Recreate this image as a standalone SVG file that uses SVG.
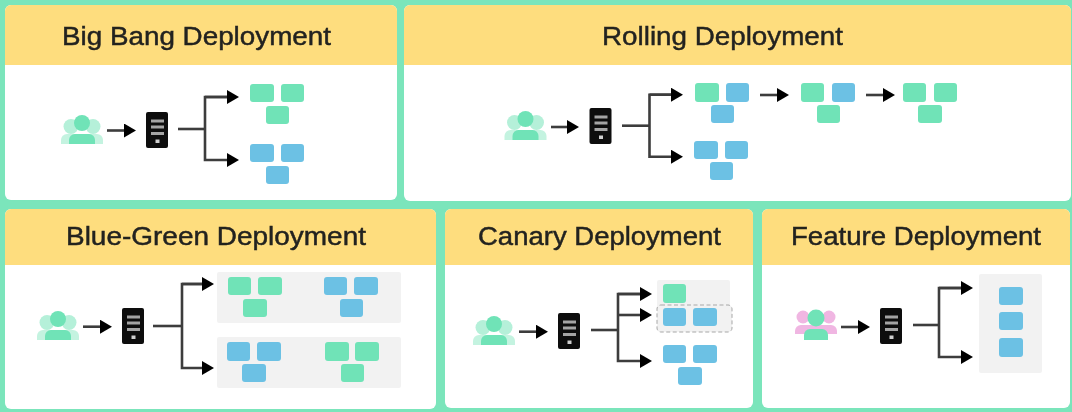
<svg xmlns="http://www.w3.org/2000/svg" width="1072" height="412" viewBox="0 0 1072 412">
<style>
.panel{fill:#fff}
.head{fill:#fedd7e}
.title{font-family:"Liberation Sans",Arial,sans-serif;font-size:25px;font-weight:400;fill:#232320;stroke:#232320;stroke-width:.45px}
.g{fill:#6fe3b7}
.b{fill:#6cc1e4}
.zone{fill:#f2f2f2}
.dash{fill:#f2f2f2;stroke:#a8a8a8;stroke-width:1;stroke-dasharray:4 2.5}
.conn{fill:none;stroke:#3c3c3c;stroke-width:2.6;marker-end:url(#ah)}
.plain{fill:none;stroke:#3c3c3c;stroke-width:2.6}
</style>
<defs>
<filter id="soft" x="0" y="0" width="100%" height="100%"><feGaussianBlur stdDeviation="0.7"/></filter>
<marker id="ah" markerUnits="userSpaceOnUse" markerWidth="13" markerHeight="15" refX="0" refY="7" orient="auto"><path d="M0 0L12 7L0 14Z" fill="#000"/></marker>
<g id="server">
<rect x="146" y="112" width="22" height="36" rx="2" fill="#0d0d0d"/>
<rect x="151" y="119.500" width="13" height="3" fill="#a4a4a4"/>
<rect x="151" y="125.500" width="13" height="3" fill="#a4a4a4"/>
<rect x="151" y="132" width="13" height="3" fill="#a4a4a4"/>
<rect x="155.500" y="139.500" width="4" height="3.500" fill="#d0d0d0"/>
</g>
<g id="user">
<circle cx="71" cy="126.500" r="7.500" fill="#b5f0d9"/>
<circle cx="93" cy="126.500" r="7.500" fill="#b5f0d9"/>
<path d="M61 144v-4a6 6 0 0 1 6-6h30a6 6 0 0 1 6 6v4z" fill="#c4f3e0"/>
<circle cx="82" cy="123" r="8" fill="#6fe3b7"/>
<path d="M69 144v-4a6 6 0 0 1 6-6h14a6 6 0 0 1 6 6v4z" fill="#6fe3b7"/>
</g>
<g id="userpink">
<circle cx="69" cy="121" r="6.500" fill="#f0b6e2"/>
<circle cx="95" cy="121" r="6.500" fill="#f0b6e2"/>
<path d="M61 138v-3a6 6 0 0 1 6-6h30a6 6 0 0 1 6 6v3z" fill="#f0b6e2"/>
<circle cx="82" cy="122" r="8.500" fill="#6fe3b7"/>
<path d="M70 144v-5a6 6 0 0 1 6-6h12a6 6 0 0 1 6 6v5z" fill="#6fe3b7"/>
</g>
</defs>
<rect width="1072" height="412" fill="#7be5bb"/>
<g filter="url(#soft)">
<g id="panel-big-bang">
<rect class="panel" x="5" y="5" width="392" height="195" rx="6"/>
<path class="head" d="M5 65V11a6 6 0 0 1 6-6H391a6 6 0 0 1 6 6V65z"/>
<text class="title" x="62" y="45" textLength="269" lengthAdjust="spacingAndGlyphs">Big Bang Deployment</text>
</g>
<g id="panel-rolling">
<rect class="panel" x="404" y="5" width="667" height="196" rx="6"/>
<path class="head" d="M404 65V11a6 6 0 0 1 6-6H1065a6 6 0 0 1 6 6V65z"/>
<text class="title" x="602" y="45" textLength="241" lengthAdjust="spacingAndGlyphs" style="font-size:26px">Rolling Deployment</text>
</g>
<g id="panel-blue-green">
<rect class="panel" x="5" y="209" width="431" height="200" rx="6"/>
<path class="head" d="M5 265V215a6 6 0 0 1 6-6H430a6 6 0 0 1 6 6V265z"/>
<text class="title" x="66" y="245" textLength="300" lengthAdjust="spacingAndGlyphs">Blue-Green Deployment</text>
</g>
<g id="panel-canary">
<rect class="panel" x="445" y="209" width="308" height="199" rx="6"/>
<path class="head" d="M445 265V215a6 6 0 0 1 6-6H747a6 6 0 0 1 6 6V265z"/>
<text class="title" x="478" y="245" textLength="243" lengthAdjust="spacingAndGlyphs">Canary Deployment</text>
</g>
<g id="panel-feature">
<rect class="panel" x="762" y="209" width="308" height="199" rx="6"/>
<path class="head" d="M762 265V215a6 6 0 0 1 6-6H1064a6 6 0 0 1 6 6V265z"/>
<text class="title" x="791" y="245" textLength="250" lengthAdjust="spacingAndGlyphs">Feature Deployment</text>
</g>

<g id="bb-user"><use href="#user"/></g>
<g id="bb-server"><use href="#server"/></g>
<g id="bb-green"><rect class="g" x="250" y="84" width="24" height="18" rx="3"/><rect class="g" x="281" y="84" width="23" height="18" rx="3"/><rect class="g" x="266" y="106" width="23" height="18" rx="3"/></g>
<g id="bb-blue"><rect class="b" x="250" y="144" width="24" height="18" rx="3"/><rect class="b" x="281" y="144" width="23" height="18" rx="3"/><rect class="b" x="266" y="166" width="23" height="18" rx="3"/></g>

<g id="ro-user"><use href="#user" x="443.500" y="-4"/></g>
<g id="ro-server"><use href="#server" x="443.500" y="-4"/></g>
<g id="ro-mixed-1"><rect class="g" x="695" y="83" width="24" height="19" rx="3"/><rect class="b" x="726" y="83" width="23" height="19" rx="3"/><rect class="b" x="711" y="105" width="23" height="18" rx="3"/></g>
<g id="ro-blue"><rect class="b" x="694" y="141" width="24" height="18" rx="3"/><rect class="b" x="725" y="141" width="23" height="18" rx="3"/><rect class="b" x="710" y="162" width="23" height="18" rx="3"/></g>
<g id="ro-mixed-2"><rect class="g" x="801" y="83" width="23" height="19" rx="3"/><rect class="b" x="832" y="83" width="23" height="19" rx="3"/><rect class="g" x="817" y="105" width="23" height="18" rx="3"/></g>
<g id="ro-green"><rect class="g" x="903" y="83" width="23" height="19" rx="3"/><rect class="g" x="934" y="83" width="23" height="19" rx="3"/><rect class="g" x="918" y="105" width="24" height="18" rx="3"/></g>

<g id="bg-user"><use href="#user" x="-24" y="196"/></g>
<g id="bg-server"><use href="#server" x="-24" y="196"/></g>
<g id="bg-zone-top"><rect class="zone" x="217" y="272" width="184" height="51" rx="2"/>
<rect class="g" x="228" y="277" width="23" height="18" rx="3"/><rect class="g" x="258" y="277" width="24" height="18" rx="3"/><rect class="g" x="243" y="299" width="24" height="18" rx="3"/>
<rect class="b" x="324" y="277" width="23" height="18" rx="3"/><rect class="b" x="354" y="277" width="24" height="18" rx="3"/><rect class="b" x="340" y="299" width="23" height="18" rx="3"/></g>
<g id="bg-zone-bottom"><rect class="zone" x="217" y="337" width="184" height="51" rx="2"/>
<rect class="b" x="227" y="342" width="23" height="19" rx="3"/><rect class="b" x="257" y="342" width="24" height="19" rx="3"/><rect class="b" x="242" y="364" width="24" height="18" rx="3"/>
<rect class="g" x="325" y="342" width="24" height="19" rx="3"/><rect class="g" x="355" y="342" width="24" height="19" rx="3"/><rect class="g" x="341" y="364" width="23" height="18" rx="3"/></g>

<g id="ca-user"><use href="#user" x="412" y="201"/></g>
<g id="ca-server"><use href="#server" x="412" y="201"/></g>
<g id="ca-canary"><rect class="zone" x="657" y="280" width="73" height="30" rx="2"/><rect class="g" x="663" y="284" width="23" height="19" rx="3"/></g>
<g id="ca-dashed"><rect class="dash" x="657" y="305" width="75" height="27" rx="4"/><rect class="b" x="663" y="308" width="23" height="18" rx="3"/><rect class="b" x="693" y="308" width="24" height="18" rx="3"/></g>
<g id="ca-blue"><rect class="b" x="663" y="345" width="23" height="18" rx="3"/><rect class="b" x="693" y="345" width="24" height="18" rx="3"/><rect class="b" x="678" y="367" width="24" height="18" rx="3"/></g>

<g id="fe-user"><use href="#userpink" x="734" y="196"/></g>
<g id="fe-server"><use href="#server" x="734" y="196"/></g>
<g id="fe-zone"><rect class="zone" x="979" y="274" width="63" height="99" rx="2"/>
<rect class="b" x="999" y="287" width="24" height="18" rx="3"/><rect class="b" x="999" y="312" width="24" height="18" rx="3"/><rect class="b" x="999" y="338" width="24" height="19" rx="3"/></g>

<g id="connectors">
<path class="conn" d="M107 130.500H124"/>
<path class="plain" d="M178 129H205"/>
<path class="conn" d="M227 97H205V160H227"/>
<path class="conn" d="M205 97H227"/>

<path class="conn" d="M551 127H567"/>
<path class="plain" d="M622 125.700H649.500"/>
<path class="conn" d="M671 94.700H649.500V156.700H671"/>
<path class="conn" d="M649.500 94.700H671"/>
<path class="conn" d="M760 95H777"/>
<path class="conn" d="M866 95H883"/>

<path class="conn" d="M83 326.700H100"/>
<path class="plain" d="M153 326H182"/>
<path class="conn" d="M202 284H182V368H202"/>
<path class="conn" d="M182 284H202"/>

<path class="conn" d="M519 331.700H536"/>
<path class="plain" d="M591 330H618"/>
<path class="conn" d="M640 294H618V361H640"/>
<path class="conn" d="M618 294H640"/>
<path class="conn" d="M618 315H640"/>

<path class="conn" d="M841 327H858"/>
<path class="plain" d="M913 325H939"/>
<path class="conn" d="M961 288H939V357H961"/>
<path class="conn" d="M939 288H961"/>
</g>
</g>
</svg>
